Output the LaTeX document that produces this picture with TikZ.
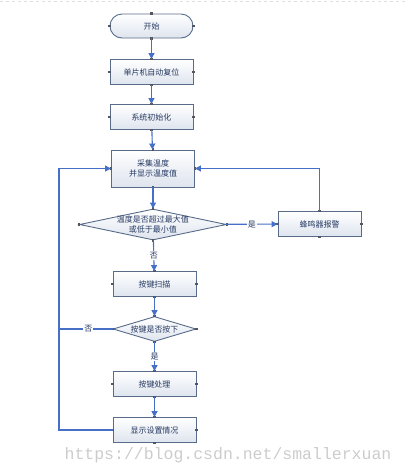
\documentclass[tikz,border=0pt]{standalone}
\usepackage{fontspec}
\newfontfamily\cjk{Noto Sans CJK SC}
\newfontfamily\markfont{Liberation Mono}
\usetikzlibrary{shapes.geometric,arrows.meta,positioning}
\definecolor{linkblue}{RGB}{70,112,200}
\definecolor{boxline}{RGB}{88,108,138}
\definecolor{boxtext}{RGB}{38,58,98}
\definecolor{boxshade}{RGB}{222,228,238}
\definecolor{pointgray}{RGB}{85,85,95}
\tikzset{
  flowbox/.style={draw=boxline, line width=0.9pt, top color=white, bottom color=boxshade,
    minimum width=83pt, minimum height=25pt, inner sep=1pt, align=center,
    font=\cjk\fontsize{8}{10}\selectfont, text=boxtext},
  endbox/.style={flowbox, rounded corners=12pt, minimum height=24pt},
  askbox/.style={flowbox, diamond, inner sep=-3pt},
  flow/.style={draw=linkblue, line width=1.1pt, -{Triangle[length=6pt,width=6pt]}},
  tag/.style={fill=white, inner sep=1pt, text=boxtext, font=\cjk\fontsize{8}{10}\selectfont}
}
\begin{document}
\begin{tikzpicture}[x=1pt,y=-1pt]
    \useasboundingbox (0,0) rectangle (405,475);
    \draw[gray!25, dashed] (0,1.5) -- (405,1.5);
    % main column
    \node[endbox] (start) at (151.5,26) {开始};
    \node[flowbox] (reset) at (151.5,72) {单片机自动复位};
    \node[flowbox] (init) at (151.5,117) {系统初始化};
    \node[flowbox, minimum height=37pt] (collect) at (153,168.5) {采集温度\\并显示温度值};
    \node[askbox, aspect=4.74, minimum width=147pt, minimum height=31pt] (check) at (153,224.5) {温度是否超过最大值\\或低于最小值};
    \node[flowbox] (alarm) at (319.5,224) {蜂鸣器报警};
    \node[flowbox] (scan) at (154.5,284) {按键扫描};
    \node[askbox, aspect=3.32, minimum width=83pt, minimum height=25pt] (keyq) at (154.5,329) {按键是否按下};
    \node[flowbox] (handle) at (154.5,384) {按键处理};
    \node[flowbox] (show) at (154.5,430) {显示设置情况};
    \coordinate (keyjoin) at (59,329);
    % connection points
    \foreach \n in {start,reset,init,collect,check,alarm,scan,keyq,handle,show}
        \foreach \a in {north,south,east,west}
            \fill[pointgray] ([shift={(-1.3,-1.3)}]\n.\a) rectangle ++(2.6,2.6);
    % connectors
    \draw[flow] (start) -- (reset);
    \draw[flow] (reset) -- (init);
    \draw[flow] (init) -- (collect);
    \draw[flow] (collect) -- (check);
    \draw[flow] (check) -- node[tag] {否} (scan);
    \draw[flow] (check) -- node[tag] {是} (alarm);
    \draw[flow] (alarm.north) |- (collect.east);
    \draw[flow] (scan) -- (keyq);
    \draw[flow] (keyq) -- node[tag] {是} (handle);
    \draw[flow] (handle) -- (show);
    \draw[draw=linkblue, line width=1.1pt] (keyq.west) -- node[tag, pos=0.45] {否} (keyjoin);
    \draw[flow] (show.west) -- (show.west -| keyjoin) |- (collect.west);
    \node[text=black!20, font=\markfont\fontsize{16.5}{18}\selectfont] (mark) at (228,455) {https://blog.csdn.net/smallerxuan};
\end{tikzpicture}
\end{document}
